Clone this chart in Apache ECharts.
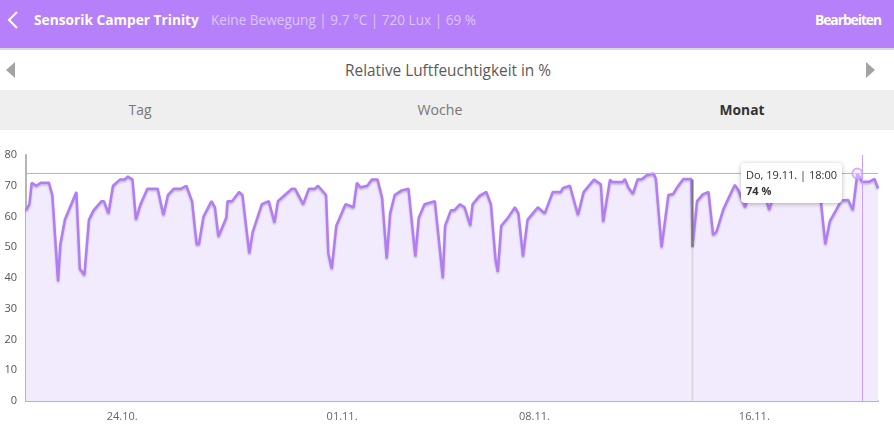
<!DOCTYPE html>
<html>
<head>
<meta charset="utf-8">
<script src="https://cdn.jsdelivr.net/npm/echarts@6/dist/echarts.min.js"></script>
<style>
html,body{margin:0;padding:0;width:894px;height:435px;overflow:hidden;background:#fff;font-family:'Open Sans','Noto Sans',sans-serif;}
.box{position:absolute;left:0;width:894px;}
.t{position:absolute;white-space:nowrap;}
#hdr{top:0;height:48px;background:#b680fa;}
#hdrline{top:48px;height:2px;background:#d9d9d9;}
#row2{top:50px;height:40px;background:#fff;}
#tabs{top:90px;height:40px;background:#efefef;}
#chart{position:absolute;left:0;top:130px;width:894px;height:305px;}
</style>
</head>
<body>
<div id="hdr" class="box"></div>
<div id="hdrline" class="box"></div>
<div id="row2" class="box"></div>
<div id="tabs" class="box"></div>
<svg width="894" height="130" style="position:absolute;left:0;top:0;">
  <polyline points="17,12 9,20 17,28" fill="none" stroke="#ffffff" stroke-width="2"/>
  <polygon points="15,62 6,70 15,78" fill="#a3a3a3"/>
  <polygon points="866,62 875,70 866,78" fill="#a3a3a3"/>
</svg>
<div class="t fit" data-w="165" style="left:34px;top:10px;height:20px;line-height:20px;font-size:14px;font-weight:700;color:#fff;">Sensorik Camper Trinity</div>
<div class="t fit" data-w="265" style="left:211px;top:10px;height:20px;line-height:20px;font-size:14px;color:#dcc6fd;">Keine Bewegung | 9.7 °C | 720 Lux | 69 %</div>
<div class="t sp" data-w="66" style="left:815px;top:10px;height:20px;line-height:20px;font-size:13.8px;font-weight:700;color:#fff;">Bearbeiten</div>
<div class="t fit" data-w="206" data-cx="448" style="top:61px;height:20px;line-height:20px;font-size:14px;color:#5a5a5a;">Relative Luftfeuchtigkeit in %</div>
<div class="t fit" data-w="23" data-cx="140" style="top:100px;height:20px;line-height:20px;font-size:14px;color:#777;">Tag</div>
<div class="t fit" data-w="45" data-cx="440" style="top:100px;height:20px;line-height:20px;font-size:14px;color:#777;">Woche</div>
<div class="t fit" data-w="45" data-cx="742" style="top:100px;height:20px;line-height:20px;font-size:14px;font-weight:700;color:#333;">Monat</div>
<div id="chart"></div>
<script>
// ---- data ----
const startTime = new Date(2020, 9, 20, 12, 0, 0).getTime(); // 20.10.2020 12:00 = hour 0
const spanHours = 744;
const hourOffsets = [
  0, 3, 5, 9, 13, 20, 23, 28, 30, 34,
  44, 47, 51, 55, 59, 66, 68, 72, 76, 82,
  86, 89, 93, 96, 100, 106, 115, 120, 124, 129,
  135, 140, 145, 149, 151, 155, 162, 165, 168, 175,
  176, 180, 186, 189, 195, 198, 206, 212, 217, 220,
  226, 232, 235, 242, 247, 252, 255, 262, 264, 267,
  271, 279, 286, 289, 292, 298, 302, 307, 311, 315,
  318, 322, 328, 334, 340, 343, 348, 357, 364, 366,
  371, 374, 379, 383, 388, 390, 396, 402, 406, 410,
  412, 415, 421, 427, 430, 434, 438, 447, 453, 460,
  467, 469, 475, 482, 487, 496, 502, 504, 510, 512,
  521, 523, 526, 530, 534, 538, 542, 548, 550, 555,
  561, 565, 569, 574, 581, 582, 582, 586, 591, 596,
  600, 603, 609, 619, 622, 628, 632, 638, 644, 647,
  649, 651, 657, 664, 672, 679, 686, 693, 698, 702,
  712, 718, 722, 726, 730, 736, 741, 744
];
const humidity = [
  62, 64, 71, 70, 71, 71, 67, 39, 51, 59,
  68, 43, 41, 59, 62, 65, 65, 61, 70, 72,
  72, 73, 72, 59, 64, 69, 69, 60.5, 67, 69,
  69, 70, 65, 51, 51, 60, 65, 63, 53.5, 59.7,
  65, 65, 68, 67, 48, 55, 64, 65, 58, 65,
  67, 69, 69, 64, 69, 69, 70, 67, 48, 43,
  57, 64, 63, 71, 69.5, 70, 72, 72, 66, 46.4,
  61, 67, 68.5, 69, 47, 59.6, 64, 65, 40, 57,
  62, 62, 64, 63, 57, 64, 66.7, 68, 64, 46,
  42, 57, 59.7, 63, 61, 47, 59, 63, 61, 68,
  68, 69.3, 70, 60.5, 68, 72, 70.5, 58.3, 72, 71.2,
  71.2, 72.2, 69.4, 67.4, 72, 72.2, 73.4, 74, 72.3, 50,
  67, 67.3, 69.7, 72.2, 72.2, 72, 50, 65, 67.2, 68,
  54, 55.1, 62.4, 70.3, 68.6, 63, 69, 71, 70, 64.8,
  62.1, 64.8, 70, 72, 70, 72, 70, 69, 51, 58.5,
  65.2, 65.4, 62.1, 74, 71.3, 71.3, 72.2, 69.2
];
const tickLabels = ['24.10.', '01.11.', '08.11.', '16.11.'];
const tickHours = [84, 276, 444, 636];   // midnight of each label date
const gapHour = 582;          // dropout marker
const gapRange = [50, 72];    // dark part of marker
const tooltipHour = 726;      // Do, 19.11. 18:00
const pointerHour = 730;      // hover line
const yTicks = { min: 0, max: 80, step: 10 };
const weekdays = ['So', 'Mo', 'Di', 'Mi', 'Do', 'Fr', 'Sa'];

// ---- fit header texts ----
document.querySelectorAll('.fit').forEach(el => {
  const target = +el.dataset.w;
  const w = el.getBoundingClientRect().width;
  const fs = parseFloat(el.style.fontSize);
  el.style.fontSize = (fs * target / w).toFixed(2) + 'px';
  if (el.dataset.cx) {
    const w2 = el.getBoundingClientRect().width;
    el.style.left = (+el.dataset.cx - w2 / 2) + 'px';
  }
});
document.querySelectorAll('.sp').forEach(el => {
  const target = +el.dataset.w;
  const w = el.getBoundingClientRect().width;
  el.style.letterSpacing = ((target - w) / el.textContent.length).toFixed(2) + 'px';
});

const pad = n => String(n).padStart(2, '0');
const lineData = hourOffsets.map((h, i) => [h, humidity[i]]);
const hi = hourOffsets.indexOf(tooltipHour);
const maxVal = Math.max(...humidity);

const purple = '#b27cf7';
const lavender = '#c99ffb';
const chart = echarts.init(document.getElementById('chart'), null, { renderer: 'canvas' });
chart.setOption({
  animation: false,
  textStyle: { fontFamily: "'Open Sans','Noto Sans',sans-serif" },
  grid: { left: 26, right: 16, top: 25, bottom: 34 },
  tooltip: {
    trigger: 'item',
    triggerOn: 'none',
    alwaysShowContent: true,
    transitionDuration: 0,
    backgroundColor: '#fff',
    borderWidth: 0,
    padding: [4, 5],
    extraCssText: 'box-shadow:0 1px 5px rgba(0,0,0,0.28);border-radius:4px;line-height:16px;',
    textStyle: { color: '#333', fontSize: 11, fontFamily: "'Open Sans','Noto Sans',sans-serif" },
    position: [741, 33],
    axisPointer: { lineStyle: { color: lavender, width: 1 } },
    formatter: p => {
      const d = new Date(startTime + p.value[0] * 3600000);
      return `<div style="line-height:16px">${weekdays[d.getDay()]}, ${pad(d.getDate())}.${pad(d.getMonth() + 1)}. | ${pad(d.getHours())}:${pad(d.getMinutes())}<br><b>${p.value[1]} %</b></div>`;
    }
  },
  xAxis: {
    type: 'value',
    min: 0,
    max: spanHours,
    axisLine: { show: true, lineStyle: { color: '#b5b5b5', width: 2 } },
    axisTick: { show: false },
    splitLine: { show: false },
    axisLabel: {
      customValues: tickHours,
      color: '#666', fontSize: 11, margin: 10,
      formatter: v => tickLabels[tickHours.indexOf(v)] || ''
    },
    axisPointer: {
      show: true, value: pointerHour, status: 'show', snap: false, triggerTooltip: false,
      label: { show: false }, lineStyle: { color: lavender, width: 1, type: 'solid' }
    }
  },
  yAxis: {
    type: 'value', min: yTicks.min, max: yTicks.max, interval: yTicks.step,
    axisLine: { show: true, lineStyle: { color: '#b5b5b5', width: 2 } },
    axisTick: { show: false },
    splitLine: { show: false },
    axisLabel: { color: '#555', fontSize: 11, margin: 9 },
    axisPointer: {
      show: false, triggerTooltip: false, label: { show: false },
      lineStyle: { color: lavender, width: 1, type: 'solid' }
    }
  },
  series: [
    {
      type: 'line', data: lineData, showSymbol: false, z: 2,
      lineStyle: { color: purple, width: 2.5, shadowColor: 'rgba(0,0,0,0.22)', shadowBlur: 2, shadowOffsetY: 1.5 },
      areaStyle: { color: '#f2eafd', opacity: 1 },
      emphasis: { disabled: true }
    },
    {
      // max reference line
      type: 'line', data: [[0, maxVal], [spanHours, maxVal]], z: 6, silent: true, showSymbol: false,
      lineStyle: { color: lavender, width: 1, type: 'solid' },
      emphasis: { disabled: true }
    },
    {
      type: 'line', data: [[gapHour, 0], [gapHour, gapRange[0]]],
      showSymbol: false, z: 3, silent: true,
      lineStyle: { color: '#dadada', width: 2 }
    },
    {
      type: 'line', data: [[gapHour, gapRange[0]], [gapHour, gapRange[1]]],
      showSymbol: false, z: 4, silent: true,
      lineStyle: { color: '#777', width: 2 }
    },
    {
      type: 'scatter', z: 7,
      data: [[tooltipHour, humidity[hi]]],
      symbolSize: 10,
      itemStyle: { color: 'rgba(236,224,254,0.6)', borderColor: lavender, borderWidth: 2 },
      emphasis: { scale: false }
    }
  ]
});
chart.dispatchAction({ type: 'showTip', seriesIndex: 4, dataIndex: 0 });
</script>
</body>
</html>
